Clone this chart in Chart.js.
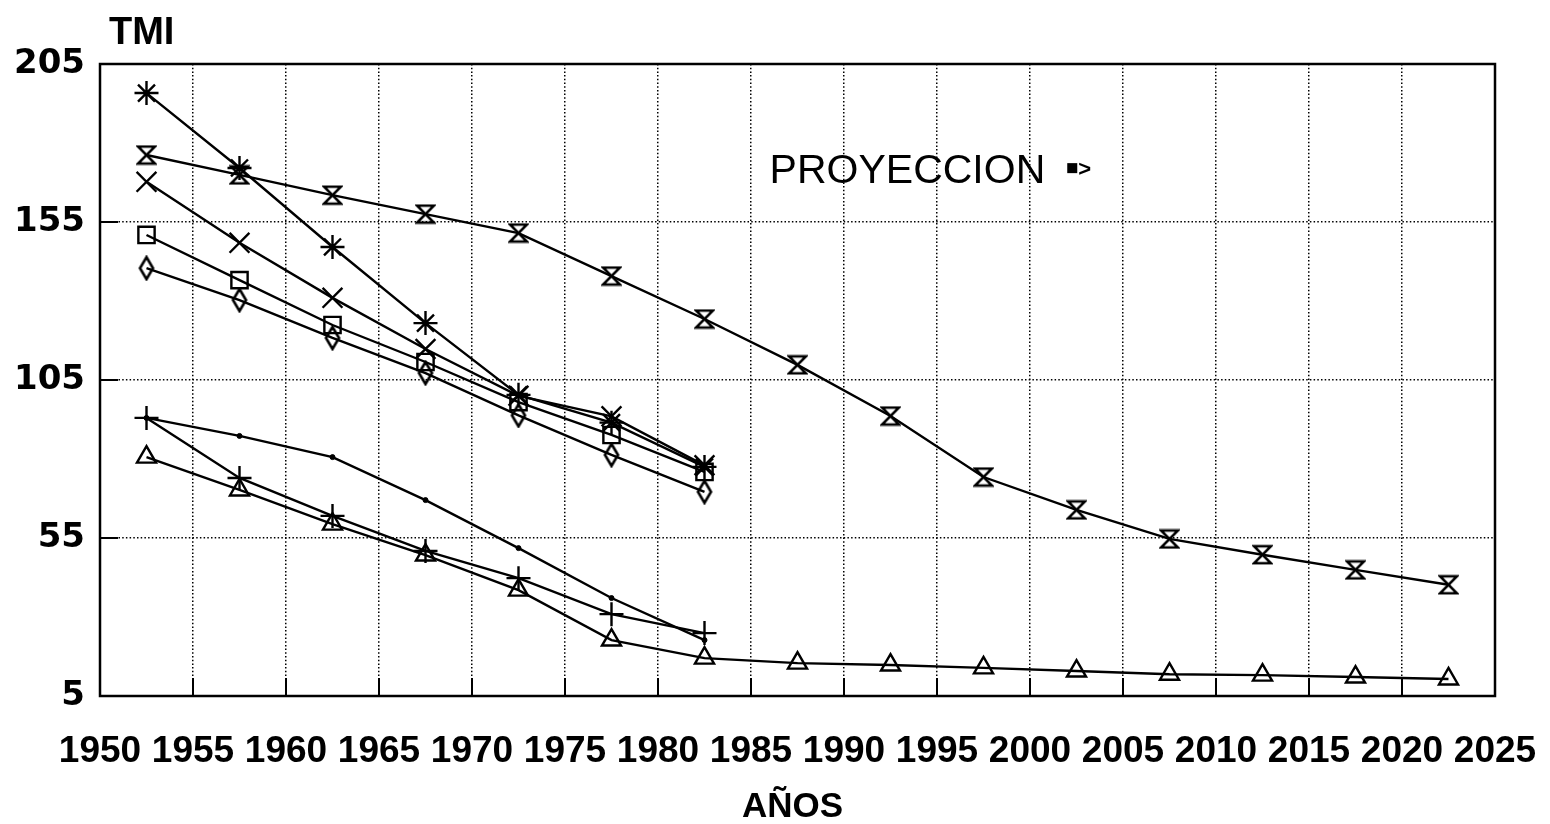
<!DOCTYPE html>
<html lang="es">
<head>
    <meta charset="UTF-8">
    <title>TMI - Proyeccion</title>
    <script src="https://cdn.jsdelivr.net/npm/chart.js"></script>
    <style>
        body {
            margin: 0;
            background-color: #fff;
        }

        .chart-container {
            width: 1550px;
            height: 824px;
        }
    </style>
</head>
<body>
    <div class="chart-container">
        <canvas id="myChart" width="1550" height="824"></canvas>
    </div>

    <script>
        // quinquenios (punto medio)
        const anios = [1952.5, 1957.5, 1962.5, 1967.5, 1972.5, 1977.5, 1982.5, 1987.5,
                       1992.5, 1997.5, 2002.5, 2007.5, 2012.5, 2017.5, 2022.5];

        const ticksX = [1950, 1955, 1960, 1965, 1970, 1975, 1980, 1985,
                        1990, 1995, 2000, 2005, 2010, 2015, 2020, 2025];
        const ticksY = [5, 55, 105, 155, 205];

        const serieAsterisco = [195.8, 172.1, 147.1, 123.0, 100.3, 91.5, 77.5];
        const serieReloj = [176.2, 169.9, 163.5, 157.5, 151.5, 137.9, 124.3, 109.8,
                            93.6, 74.3, 63.9, 54.7, 49.7, 44.9, 40.2];
        const serieEquis = [167.7, 148.4, 131.0, 114.8, 100.0, 93.5, 78.0];
        const serieCuadrado = [150.9, 136.6, 122.4, 110.7, 98.0, 87.6, 75.9];
        const serieRombo = [140.4, 130.3, 118.3, 107.2, 93.8, 81.3, 69.6];
        const seriePunto = [93.0, 87.3, 80.6, 67.0, 51.8, 36.0, 22.7];
        const serieCruz = [93.0, 74.0, 62.0, 50.9, 42.3, 30.9, 24.9];
        const serieTriangulo = [80.6, 70.2, 59.4, 49.6, 38.5, 22.7, 17.0, 15.4,
                                14.8, 13.9, 12.9, 11.9, 11.6, 11.0, 10.4];

        function puntos(valores) {
            return valores.map((v, i) => ({ x: anios[i], y: v }));
        }

        // marcadores que Chart.js no trae
        function marcador(w, h, dibujar) {
            const c = document.createElement('canvas');
            c.width = w;
            c.height = h;
            const g = c.getContext('2d');
            g.strokeStyle = '#000';
            g.lineWidth = 2.6;
            g.lineJoin = 'miter';
            dibujar(g);
            return c;
        }

        const reloj = marcador(21, 21, g => {
            g.beginPath();
            g.moveTo(2, 2);
            g.lineTo(19, 2);
            g.lineTo(2, 19);
            g.lineTo(19, 19);
            g.closePath();
            g.stroke();
        });

        const rombo = marcador(18, 26, g => {
            g.beginPath();
            g.moveTo(9, 2);
            g.lineTo(15.5, 13);
            g.lineTo(9, 24);
            g.lineTo(2.5, 13);
            g.closePath();
            g.stroke();
        });

        function serie(label, valores, estilo, radio) {
            return {
                label: label,
                data: puntos(valores),
                borderColor: '#000',
                borderWidth: 2.4,
                pointStyle: estilo,
                pointRadius: radio,
                pointBorderColor: '#000',
                pointBorderWidth: 2.4,
                pointBackgroundColor: 'rgba(0,0,0,0)',
                tension: 0
            };
        }

        const datasets = [
            serie('asterisco', serieAsterisco, 'star', 12),
            serie('reloj', serieReloj, reloj, 10),
            serie('equis', serieEquis, 'crossRot', 14),
            serie('cuadrado', serieCuadrado, 'rect', 11.5),
            serie('rombo', serieRombo, rombo, 10),
            serie('punto', seriePunto, 'circle', 2.5),
            serie('cruz', serieCruz, 'cross', 12),
            serie('triangulo', serieTriangulo, 'triangle', 11)
        ];
        datasets[5].pointBackgroundColor = '#000';
        datasets[5].pointBorderWidth = 1;

        const marcoPlugin = {
            id: 'marco',
            beforeDatasetsDraw(chart) {
                const ctx = chart.ctx;
                const a = chart.chartArea;
                const sx = chart.scales.x;
                const sy = chart.scales.y;
                ctx.save();
                ctx.strokeStyle = '#000';
                ctx.lineWidth = 2;
                ctx.beginPath();
                sx.ticks.forEach(t => {
                    const px = sx.getPixelForValue(t.value);
                    ctx.moveTo(px, a.bottom);
                    ctx.lineTo(px, a.bottom - 18);
                });
                sy.ticks.forEach(t => {
                    const py = sy.getPixelForValue(t.value);
                    ctx.moveTo(a.left, py);
                    ctx.lineTo(a.left + 18, py);
                });
                ctx.stroke();
                ctx.lineWidth = 2.5;
                ctx.strokeRect(a.left, a.top, a.right - a.left, a.bottom - a.top);
                ctx.restore();
            },
            afterDraw(chart) {
                const ctx = chart.ctx;
                const a = chart.chartArea;
                const sx = chart.scales.x;
                const sy = chart.scales.y;
                ctx.save();
                ctx.fillStyle = '#000';
                ctx.textBaseline = 'alphabetic';
                ctx.textAlign = 'left';
                ctx.font = 'bold 38px "Liberation Sans", Arial, sans-serif';
                ctx.fillText('TMI', a.left + 9, 44);

                const px = sx.getPixelForValue(1986);
                const py = sy.getPixelForValue(167.3);
                ctx.font = '41px "Liberation Sans", Arial, sans-serif';
                ctx.fillText('PROYECCION', px, py);
                const w = ctx.measureText('PROYECCION').width;
                ctx.fillRect(px + w + 22, py - 20, 10, 10);
                ctx.font = 'bold 22px "Liberation Sans", Arial, sans-serif';
                ctx.fillText('>', px + w + 33, py - 7);

                // titulo del eje x, un poco a la izquierda del centro
                ctx.textAlign = 'center';
                ctx.font = 'bold 35px "Liberation Sans", Arial, sans-serif';
                ctx.fillText('AÑOS', (a.left + a.right) / 2 - 5, 817);
                ctx.restore();
            }
        };

        const ctx = document.getElementById('myChart').getContext('2d');
        const myChart = new Chart(ctx, {
            type: 'line',
            data: { datasets: datasets },
            options: {
                responsive: false,
                animation: false,
                layout: {
                    padding: { top: 64, right: 55, left: 0, bottom: 0 }
                },
                plugins: {
                    legend: { display: false },
                    tooltip: { enabled: false }
                },
                scales: {
                    x: {
                        type: 'linear',
                        min: 1950,
                        max: 2025,
                        afterBuildTicks: scale => {
                            scale.ticks = ticksX.map(v => ({ value: v }));
                        },
                        afterFit: scale => {
                            scale.height = 128;
                            scale.paddingLeft = 0;
                            scale.paddingRight = 0;
                        },
                        grid: {
                            color: '#000',
                            lineWidth: 1.5,
                            drawTicks: false
                        },
                        border: { display: false, dash: [1.5, 2.2] },
                        ticks: {
                            autoSkip: false,
                            maxRotation: 0,
                            padding: 34,
                            color: '#000',
                            font: { family: '"Liberation Sans", Arial, sans-serif', size: 37, weight: 'bold' },
                            callback: v => String(v)
                        }
                    },
                    y: {
                        type: 'linear',
                        min: 5,
                        max: 205,
                        afterBuildTicks: scale => {
                            scale.ticks = ticksY.map(v => ({ value: v }));
                        },
                        afterFit: scale => { scale.width = 100; },
                        grid: {
                            color: '#000',
                            lineWidth: 1.5,
                            drawTicks: false
                        },
                        border: { display: false, dash: [1.5, 2.2] },
                        ticks: {
                            padding: 15,
                            color: '#000',
                            font: { family: '"DejaVu Sans", sans-serif', size: 34, weight: 'bold' },
                            callback: v => String(v)
                        }
                    }
                }
            },
            plugins: [marcoPlugin]
        });
    </script>
</body>
</html>
